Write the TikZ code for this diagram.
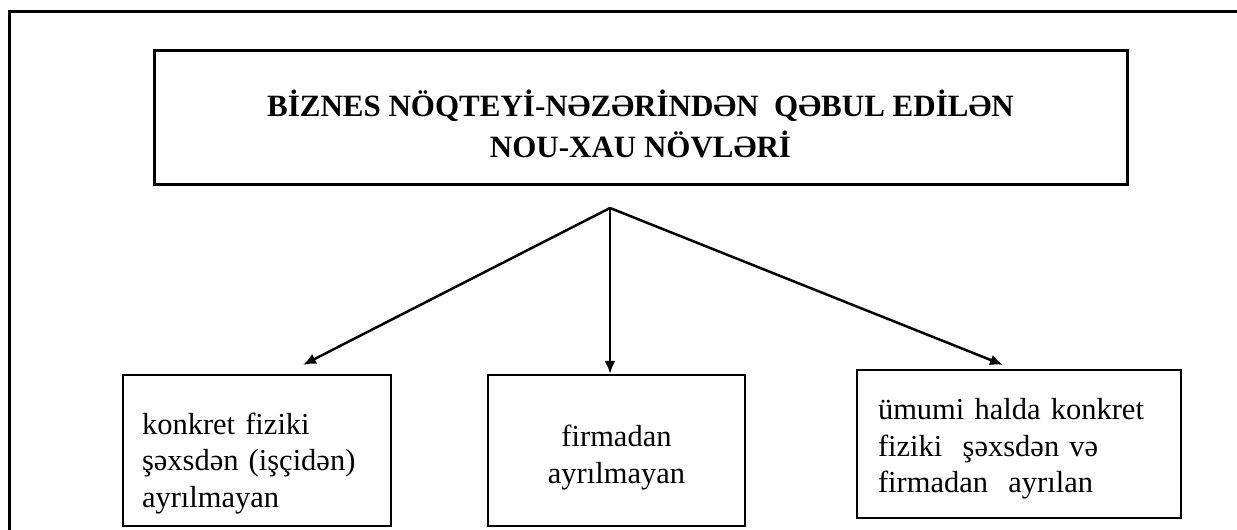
\documentclass[tikz,border=0pt]{standalone}
\usepackage{fontspec}
\setmainfont{Liberation Serif}
\usetikzlibrary{arrows.meta,calc}
\tikzset{
    frame/.style  = {draw=black,
                    line width=3pt},
    header/.style = {rectangle,
                    fill=white,
                    draw=black,
                    line width=3pt,
                    minimum width=973pt,
                    minimum height=134pt},
    headtext/.style = {text=black,
                    align=center,
                    font=\bfseries\fontsize{31}{41}\selectfont},
    kind/.style   = {rectangle,
                    fill=white,
                    draw=black,
                    line width=2.2pt},
    kindtext/.style = {text=black,
                    font=\fontsize{30.5}{36.5}\selectfont},
    -,
    >={Latex[length=13pt,width=11pt]}}

\begin{document}
\begin{tikzpicture}[x=1pt,y=-1pt]
                \useasboundingbox (0,0) rectangle (1237,530);
                \draw [frame] (1237,11) -- (9,11) -- (9,530);
                \node[header, label={[headtext, yshift=-7pt]center:BİZNES NÖQTEYİ-NƏZƏRİNDƏN\ \ QƏBUL EDİLƏN\\NOU-XAU NÖVLƏRİ}]
                                    (title) at (640.5,117)  {};
                \coordinate         (apex)  at (610,208);
                \node[kind, minimum width=268pt, minimum height=151pt,
                      label={[kindtext, text width=230pt, align=left, yshift=-13pt]center:konkret fiziki\\şəxsdən (işçidən)\\ayrılmayan}]
                                    (person) at (257,450.5) {};
                \node[kind, minimum width=257pt, minimum height=151pt,
                      label={[kindtext, align=center, yshift=-7pt]center:firmadan\\ayrılmayan}]
                                    (firm)   at (616.5,450.5) {};
                \node[kind, minimum width=324pt, minimum height=148pt,
                      label={[kindtext, text width=282pt, align=left, yshift=-5pt]center:ümumi halda konkret\\fiziki\ \ şəxsdən və\\firmadan\ \ ayrılan}]
                                    (both)   at (1019,444) {};
                \path [line width=2.5pt,->]  (apex) edge ([xshift=46pt,yshift=9pt]person.north)
                                        (apex) edge (apex |- firm.north)
                                        (apex) edge ([xshift=-16pt,yshift=4pt]both.north);
\end{tikzpicture}
\end{document}
